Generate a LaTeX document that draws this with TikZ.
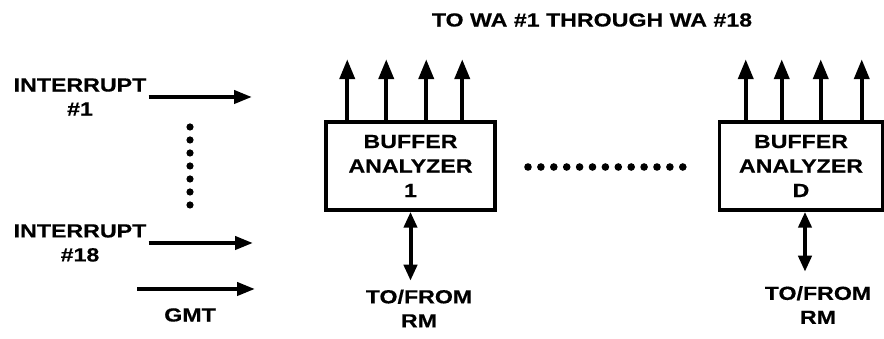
\documentclass[tikz,border=0pt]{standalone}
\usepackage{fontspec}
\setmainfont{Liberation Sans}[FakeStretch=1.22, BoldFeatures={FakeBold=0.4}]
\usetikzlibrary{arrows.meta}
\usetikzlibrary{positioning}
\usetikzlibrary{calc}

\begin{document}
\begin{tikzpicture}
    [x=1pt,y=1pt,
labeltext/.style={font=\fontsize{19}{24}\selectfont\bfseries, align=center, inner sep=2pt},
bufbox/.style={draw, line width=3.5pt, minimum width=169pt, minimum height=88pt, inner sep=0pt, font=\fontsize{19}{24.5}\selectfont\bfseries, align=center},
uparrow/.style={line width=4pt, -{Triangle[length=20pt,width=15pt]}},
inarrow/.style={line width=4pt, -{Triangle[length=18pt,width=13pt]}},
bothway/.style={line width=4pt, {Triangle[length=16pt,width=13pt]}-{Triangle[length=16pt,width=13pt]}}
]
\useasboundingbox (0,0) rectangle (884,339);

\node[bufbox](ba1) at (410.5,173){BUFFER\\ANALYZER\\1};
\node[bufbox,minimum width=163pt](baD) at (801,173){BUFFER\\ANALYZER\\D};

\node[labeltext](title) at (592,319){TO WA \#1 THROUGH WA \#18};

\node[labeltext](int1) at (80,242){INTERRUPT\\\#1};
\node[labeltext](int18) at (80,96){INTERRUPT\\\#18};
\node[labeltext](gmt) at (190,24){GMT};

\coordinate (in1) at (252,242);
\coordinate (in18) at (253,96);
\coordinate (gmtL) at (137,50);
\coordinate (gmtR) at (255,50);

\draw[inarrow] (int1.east) -- (in1);
\draw[inarrow] (int18.east) -- (in18);
\draw[inarrow] (gmtL) -- (gmtR);

\foreach \i in {0,...,6}
    \fill (190,212-13*\i) circle (3.6);
\foreach \i in {0,...,12}
    \fill (528+12.9*\i,172) circle (3.8);

\foreach \dx [count=\i] in {23,62,102,138}{
    \coordinate (wa1\i) at ($(ba1.north west)+(\dx,61)$);
    \draw[uparrow] (wa1\i |- ba1.north) -- (wa1\i);
}
\foreach \dx [count=\i] in {28,64,103,144}{
    \coordinate (waD\i) at ($(baD.north west)+(\dx,61)$);
    \draw[uparrow] (waD\i |- baD.north) -- (waD\i);
}

\coordinate (rm1) at ($(ba1.south)+(0,-69)$);
\coordinate (rmD) at ($(baD.south)+(4,-60)$);
\draw[bothway] (ba1.south) -- (rm1);
\draw[bothway] (baD.south -| rmD) -- (rmD);

\node[labeltext](tofrom1) at (419,30.5){TO/FROM\\RM};
\node[labeltext](tofromD) at (818,34){TO/FROM\\RM};

\end{tikzpicture}
\end{document}
